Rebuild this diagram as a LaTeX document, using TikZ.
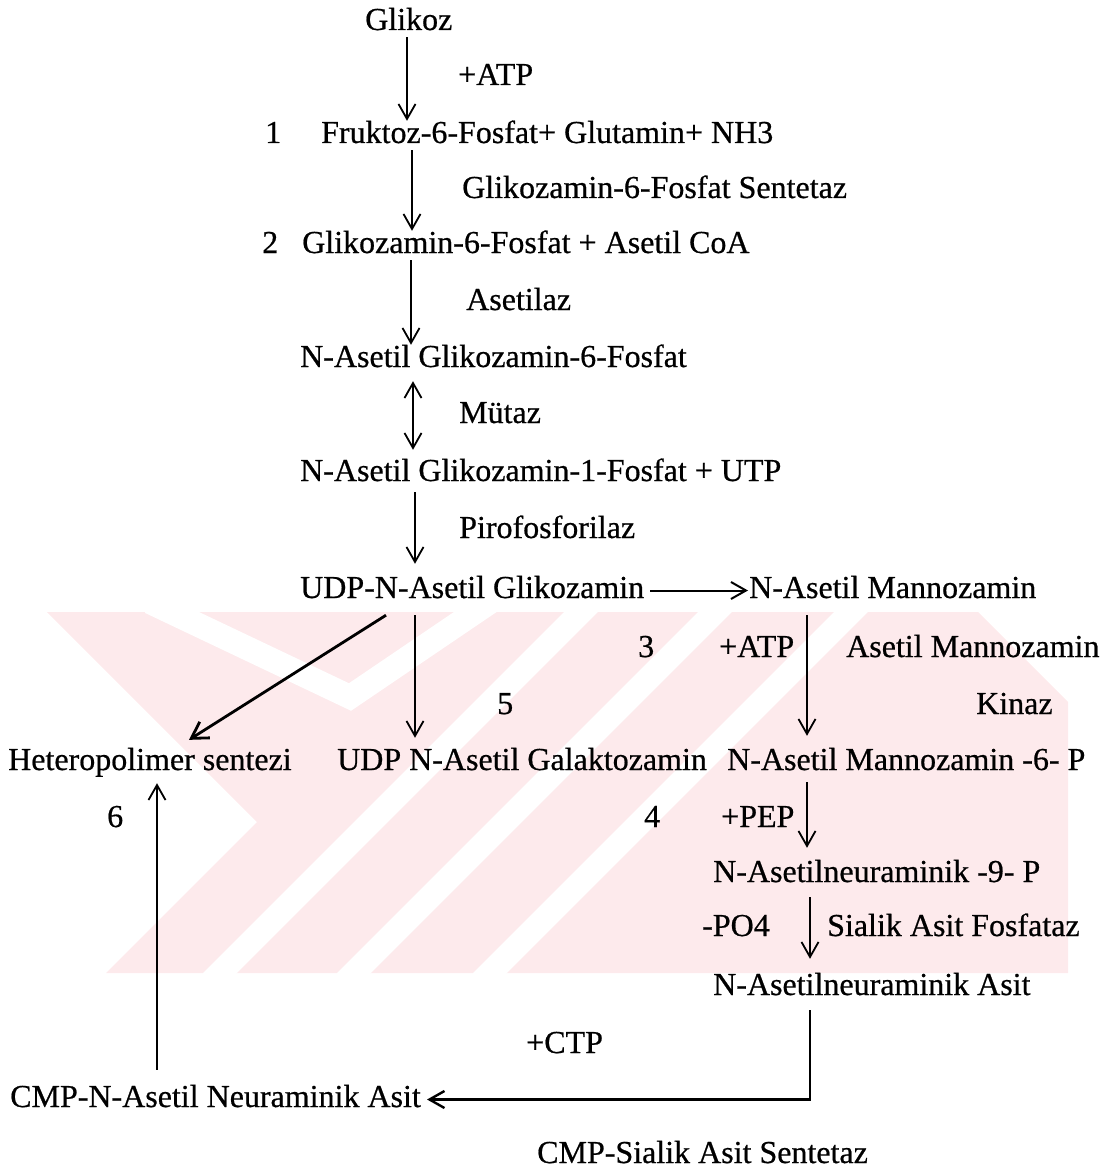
\documentclass[tikz,border=0pt]{standalone}
\usepackage{fontspec}
\setmainfont{Liberation Serif}[FakeBold=0.6]
\usetikzlibrary{arrows.meta,calc}
\definecolor{wmPinkColor}{RGB}{253,234,236}

\begin{document}
\begin{tikzpicture}[
		x=1pt, y=-1pt,
		% Styles
		lbl/.style={anchor=base west, inner sep=0pt, text height=22pt, text depth=7pt, font=\fontsize{32}{38}\selectfont},
		rxn/.style={-{Straight Barb[length=15pt,width=17pt]}, line width=1.8pt},
		rxnBoth/.style={{Straight Barb[length=15pt,width=17pt]}-{Straight Barb[length=15pt,width=17pt]}, line width=1.8pt},
		rxnThick/.style={-{Straight Barb[length=16pt,width=19pt]}, line width=2.8pt},
		wmPink/.style={fill=wmPinkColor},
		wmGap/.style={draw=white, line width=24pt}
	]
	\useasboundingbox (0,0) rectangle (1102,1174);

	% --- 0. WATERMERK (ACHTERGROND) ---
	\fill[wmPink] (47,612) -- (978,612) -- (1068,702) -- (1068,973) -- (106,973) -- (257,822) -- cycle;
	\foreach \xb in {220,354,490} {
			\draw[wmGap] (\xb-20,993) -- (\xb+383,590);
		}
	\draw[wmGap, line join=miter] (150,602) -- (350,697) -- (490,602);

	% --- 1. HOOFDKETEN ---
	\node[lbl] (glikoz) at (365,30) {Glikoz};
	\node[lbl] (atpA) at (458,85) {+ATP};
	\node[lbl] (nr1) at (265,143) {1};
	\node[lbl] (fruktoz) at (321,143) {Fruktoz-6-Fosfat+ Glutamin+ NH3};
	\node[lbl] (gfSentetaz) at (462,198) {Glikozamin-6-Fosfat Sentetaz};
	\node[lbl] (nr2) at (262,253) {2};
	\node[lbl] (glkzmn) at (302,253) {Glikozamin-6-Fosfat + Asetil CoA};
	\node[lbl] (asetilaz) at (466,310) {Asetilaz};
	\node[lbl] (nag6p) at (300,367) {N-Asetil Glikozamin-6-Fosfat};
	\node[lbl] (mutaz) at (459,423) {Mütaz};
	\node[lbl] (nag1p) at (300,481) {N-Asetil Glikozamin-1-Fosfat + UTP};
	\node[lbl] (pirofos) at (459,538) {Pirofosforilaz};
	\node[lbl] (udpNag) at (300,598) {UDP-N-Asetil Glikozamin};

	% --- 2. VERTAKKINGEN ---
	\node[lbl] (nam) at (749,598) {N-Asetil Mannozamin};
	\node[lbl] (nr3) at (638,657) {3};
	\node[lbl] (atpB) at (719,657) {+ATP};
	\node[lbl] (amKinaz) at (846,657) {Asetil Mannozamin};
	\node[lbl] (nr5) at (497,714) {5};
	\node[lbl] (kinaz) at (976,714) {Kinaz};
	\node[lbl] (hetero) at (8,770) {Heteropolimer sentezi};
	\node[lbl] (udpGal) at (337,770) {UDP N-Asetil Galaktozamin};
	\node[lbl] (nam6p) at (727,770) {N-Asetil Mannozamin -6- P};
	\node[lbl] (nr6) at (107,827) {6};
	\node[lbl] (nr4) at (644,827) {4};
	\node[lbl] (pep) at (721,827) {+PEP};
	\node[lbl] (nan9p) at (713,882) {N-Asetilneuraminik -9- P};
	\node[lbl] (po4) at (702,936) {-PO4};
	\node[lbl] (sialik) at (827,936) {Sialik Asit Fosfataz};
	\node[lbl] (nana) at (713,995) {N-Asetilneuraminik Asit};
	\node[lbl] (ctp) at (526,1053) {+CTP};
	\node[lbl] (cmp) at (10,1107) {CMP-N-Asetil Neuraminik Asit};
	\node[lbl] (cmpSentetaz) at (537,1163) {CMP-Sialik Asit Sentetaz};

	% --- 3. PIJLEN ---
	\coordinate (colA) at (407,0);
	\coordinate (colB) at (412,0);
	\coordinate (colC) at (411,0);
	\coordinate (colD) at (413,0);
	\coordinate (colE) at (415,0);
	\coordinate (colMan) at (807,0);
	\coordinate (colNeu) at (810,0);
	\coordinate (colCmp) at (157,0);
	\coordinate (diagS) at (401.8,0);
	\coordinate (diagE) at (176.4,0);

	\draw[rxn] (glikoz.south -| colA) -- (fruktoz.north -| colA);
	\draw[rxn] (fruktoz.south -| colB) -- (glkzmn.north -| colB);
	\draw[rxn] (glkzmn.south -| colC) -- (nag6p.north -| colC);
	\draw[rxnBoth, shorten <=7pt, shorten >=9pt] (nag6p.south -| colD) -- (nag1p.north -| colD);
	\draw[rxn, shorten <=4pt, shorten >=12pt] (nag1p.south -| colE) -- (udpNag.north -| colE);
	\draw[rxn, line width=2pt, shorten <=6pt, shorten >=1pt] (udpNag.east) -- (nam.west);

	\draw[rxnThick, shorten <=18.7pt, shorten >=14.9pt] (udpNag.south -| diagS) -- (hetero.north -| diagE);
	\draw[rxn, shorten <=10pt, shorten >=10pt] (udpNag.south -| colE) -- (udpGal.north -| colE);
	\draw[rxn, shorten <=10pt, shorten >=12pt] (nam.south -| colMan) -- (nam6p.north -| colMan);
	\draw[rxn, shorten <=5pt, shorten >=12pt] (nam6p.south -| colMan) -- (nan9p.north -| colMan);
	\draw[rxn, shorten <=8pt, shorten >=14pt] (nan9p.south -| colNeu) -- (nana.north -| colNeu);

	\draw[rxn, line width=2.4pt, shorten <=8pt, shorten >=6pt] (nana.south -| colNeu) -- (colNeu |- cmp.east) -- (cmp.east);
	\draw[rxn, shorten <=15pt, shorten >=6pt] (cmp.north -| colCmp) -- (hetero.south -| colCmp);

\end{tikzpicture}
\end{document}
